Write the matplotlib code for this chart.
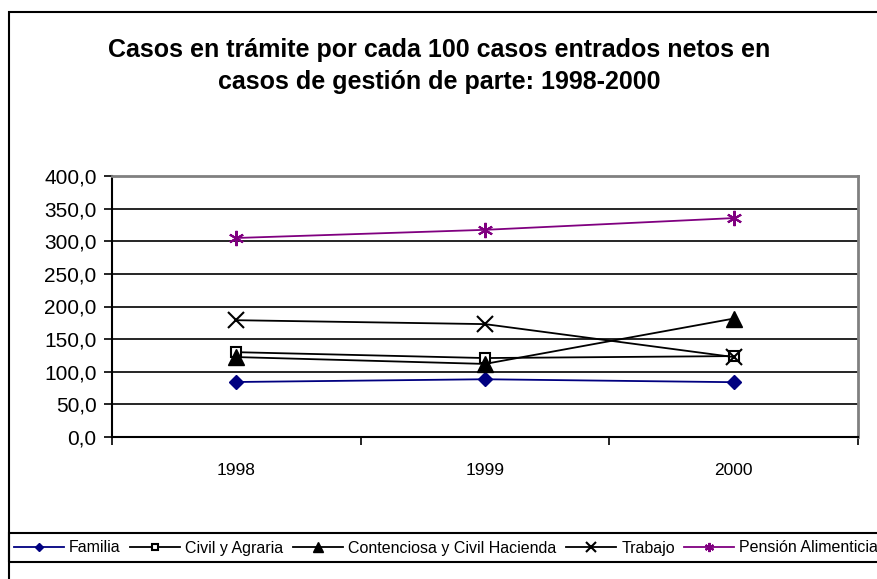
import matplotlib
matplotlib.use("Agg")
import matplotlib.pyplot as plt
from matplotlib.patches import Rectangle
from matplotlib.ticker import FixedLocator, FuncFormatter

# data
years = ["1998", "1999", "2000"]
familia = [84.3, 88.5, 84.0]
civil_agraria = [130.0, 121.0, 124.0]
contenciosa = [122.5, 112.0, 181.5]
trabajo = [179.0, 173.0, 122.5]
pension = [305.0, 317.5, 335.5]

plt.rcParams['font.family'] = ['Liberation Sans', 'DejaVu Sans']

fig = plt.figure(figsize=(8.78, 5.79), dpi=100)
ax = fig.add_axes([112 / 878, 1 - 437 / 579, (858 - 112) / 878, (437 - 176) / 579])

x = [i + 0.5 for i in range(len(years))]
ax.plot(x, familia, color="#000080", lw=1.3, marker="D", ms=7, label="Familia")
ax.plot(x, civil_agraria, color="black", lw=1.3, marker="s", ms=7, mfc="white",
        mec="black", mew=1.5, label="Civil y Agraria")
ax.plot(x, contenciosa, color="black", lw=1.3, marker="^", ms=12, label="Contenciosa y Civil Hacienda")
ax.plot(x, trabajo, color="black", lw=1.3, marker="x", ms=12, mew=1.5, label="Trabajo")
ax.plot(x, pension, color="#800080", lw=1.3, marker=(6, 2, 0), ms=11, mew=1.5,
        label="Pensión Alimenticia")

ax.set_xlim(0, 3)
ax.set_ylim(0, 400)
ax.yaxis.set_major_locator(FixedLocator(range(0, 401, 50)))
ax.yaxis.set_major_formatter(FuncFormatter(lambda v, p: f"{v:.1f}".replace(".", ",")))
ax.grid(axis="y", color="black", lw=1.2)
ax.set_axisbelow(True)

ax.xaxis.set_major_locator(FixedLocator([0, 1, 2, 3]))
ax.xaxis.set_major_formatter(FuncFormatter(lambda v, p: ""))
ax.xaxis.set_minor_locator(FixedLocator(x))
ax.set_xticklabels(years, minor=True)
ax.tick_params(axis="x", which="major", length=6, width=1.2, direction="out")
ax.tick_params(axis="x", which="minor", length=0, pad=19, labelsize=12.5)
ax.tick_params(axis="y", length=6, width=1.2, direction="out", labelsize=15, pad=5)

for s in ["left", "bottom"]:
    ax.spines[s].set_color("black")
    ax.spines[s].set_linewidth(1.5)
for s in ["top", "right"]:
    ax.spines[s].set_color("#808080")
    ax.spines[s].set_linewidth(2)

fig.text(0.5, 1 - 50 / 579, "Casos en trámite por cada 100 casos entrados netos en",
         ha="center", va="center", fontsize=18, fontweight="bold")
fig.text(0.5, 1 - 82 / 579, "casos de gestión de parte: 1998-2000",
         ha="center", va="center", fontsize=18, fontweight="bold")

# outer chart border and legend box
fig.patches.append(Rectangle((9 / 878, -0.1), 1.2, 1.1 - 12 / 579, transform=fig.transFigure,
                             fill=False, ec="black", lw=1.5))
fig.patches.append(Rectangle((9 / 878, 1 - 562 / 579), 1.2, 29 / 579, transform=fig.transFigure,
                             fill=False, ec="black", lw=1.5))

fig.legend(loc="center left", bbox_to_anchor=(14 / 878, 1 - 548 / 579), ncol=5,
           frameon=False, fontsize=11.5, handlelength=3.1, handletextpad=0.35,
           columnspacing=0.6, borderaxespad=0, borderpad=0, markerscale=0.6)

fig.savefig("out.png", dpi=100)
